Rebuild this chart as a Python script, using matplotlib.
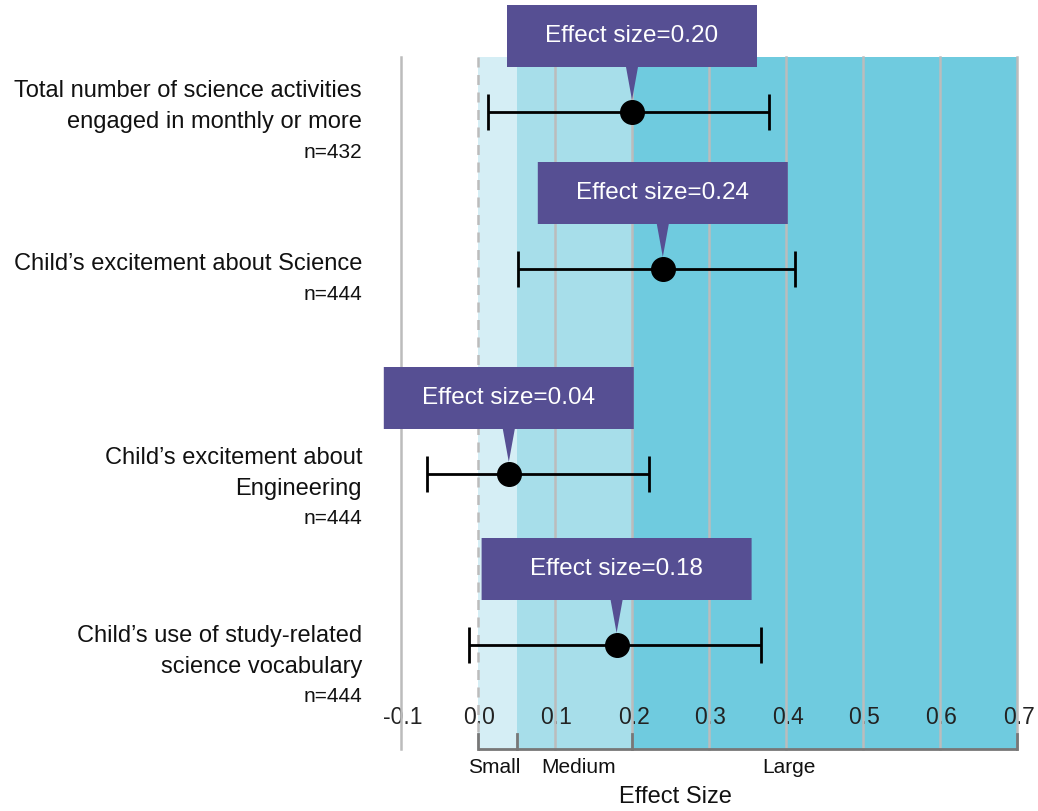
import matplotlib
matplotlib.use("Agg")
import matplotlib.pyplot as plt
from matplotlib.patches import Polygon, Rectangle

plt.rcParams["font.family"] = ["Liberation Sans", "DejaVu Sans"]

# data
outcome_lines = [
    ["Total number of science activities", "engaged in monthly or more"],
    ["Child\u2019s excitement about Science"],
    ["Child\u2019s excitement about", "Engineering"],
    ["Child\u2019s use of study-related", "science vocabulary"],
]
n_values = [432, 444, 444, 444]
effect = [0.20, 0.24, 0.04, 0.18]
ci_low = [0.013, 0.052, -0.066, -0.012]
ci_high = [0.378, 0.412, 0.222, 0.368]

ticks = [-0.1, 0.0, 0.1, 0.2, 0.3, 0.4, 0.5, 0.6, 0.7]
band_edges = [0.0, 0.05, 0.2, 0.7]
band_names = ["Small", "Medium", "Large"]

# layout (pixel rows, figure is drawn in pixel-like y units)
W, H = 1038, 812
X0_PX, PX_PER_UNIT = 478, 770.0
row_y = [113, 270, 475, 646]
label_y = [[91, 122, 152], [264, 295], [458, 489, 519], [636, 667, 697]]
box_w = [250, 250, 250, 270]
band_top, band_bot = 58, 750
band_label_x = [0.021, 0.13, 0.404]

c_bands = ["#d5eef5", "#a7deea", "#6fcbdf"]
c_grid = "#bcbcbc"
c_box = "#564f93"


def px(v):
    return v / PX_PER_UNIT


fig = plt.figure(figsize=(W / 100, H / 100), dpi=100)
ax = fig.add_axes([0, 0, 1, 1])
ax.set_xlim(-X0_PX / PX_PER_UNIT, (W - X0_PX) / PX_PER_UNIT)
ax.set_ylim(H, 0)
ax.axis("off")

# shaded effect-size bands
for i, name in enumerate(band_names):
    ax.add_patch(Rectangle((band_edges[i], band_top), band_edges[i + 1] - band_edges[i],
                           band_bot - band_top, color=c_bands[i], lw=0, zorder=0))

# tick labels (grid lines are drawn over them, like the original)
for t in ticks:
    ax.text(t + px(1.5), 718, f"{t:.1f}", ha="center", va="center", fontsize=16.5,
            color="#222222", zorder=1)

for t in ticks:
    if t == 0.0:
        ax.plot([t, t], [band_top, 735], color=c_grid, lw=1.8, ls=(0, (4, 3)), zorder=2)
    else:
        ax.plot([t, t], [band_top, band_bot], color=c_grid, lw=1.8, zorder=2)

# bracket under bands
ax.plot([band_edges[0], band_edges[-1]], [band_bot, band_bot], color="#777777", lw=2, zorder=3,
        solid_capstyle="butt")
for e in band_edges:
    ax.plot([e, e], [735, band_bot], color="#777777", lw=2, zorder=3)
for name, bx in zip(band_names, band_label_x):
    ax.text(bx, 768, name, ha="center", va="center", fontsize=15, color="#111111")
ax.text(0.257, 797, "Effect Size", ha="center", va="center", fontsize=17, color="#111111")

# rows
for i in range(len(effect)):
    y = row_y[i]
    ax.errorbar(effect[i], y, xerr=[[effect[i] - ci_low[i]], [ci_high[i] - effect[i]]],
                fmt="o", color="black", ms=17, elinewidth=2, capsize=13, capthick=2, zorder=5)

    lines = outcome_lines[i] + [f"n={n_values[i]}"]
    for j, (txt, ly) in enumerate(zip(lines, label_y[i])):
        last = j == len(lines) - 1
        ax.text(-0.1505, ly, txt, ha="right", va="center", fontsize=15 if last else 17,
                color="#111111")

    # callout box with pointer
    bw = px(box_w[i])
    left = effect[i] - bw / 2
    top = y - 107
    bottom = y - 45
    tip = y - 12
    half = px(6)
    poly = [(left, top), (left + bw, top), (left + bw, bottom), (effect[i] + half, bottom),
            (effect[i], tip), (effect[i] - half, bottom), (left, bottom)]
    ax.add_patch(Polygon(poly, closed=True, color=c_box, lw=0, zorder=6))
    ax.text(effect[i], top + 30, f"Effect size={effect[i]:.2f}", ha="center", va="center",
            fontsize=17.5, color="white", zorder=7)

fig.savefig("out.png", dpi=100)
